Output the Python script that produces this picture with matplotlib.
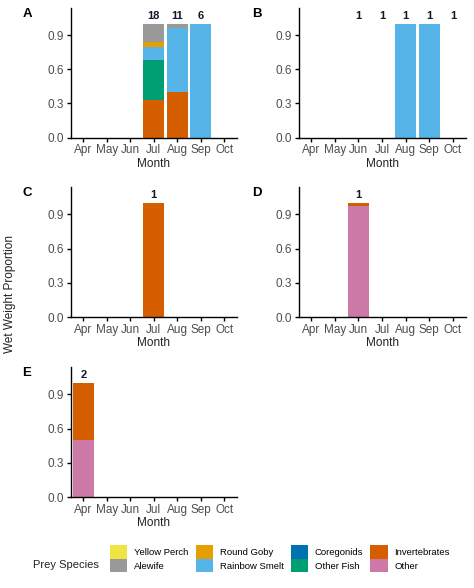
import matplotlib
matplotlib.use('Agg')
import matplotlib.pyplot as plt
from matplotlib.patches import Patch
import numpy as np

plt.rcParams['font.family'] = ['Liberation Sans', 'DejaVu Sans']

months = ['Apr', 'May', 'Jun', 'Jul', 'Aug', 'Sep', 'Oct']

# legend / stacking order (first level sits on top of the stack)
species = ['Yellow Perch', 'Alewife', 'Round Goby', 'Rainbow Smelt',
           'Coregonids', 'Other Fish', 'Invertebrates', 'Other']
colors = ['#F0E442', '#999999', '#E69F00', '#56B4E9',
          '#0072B2', '#009E73', '#D55E00', '#CC79A7']

# wet weight proportions per month, one dict per panel
panel_a = {
    'Alewife':       [0, 0, 0, 0.16, 0.035, 0, 0],
    'Round Goby':    [0, 0, 0, 0.04, 0, 0, 0],
    'Rainbow Smelt': [0, 0, 0, 0.115, 0.565, 1.0, 0],
    'Other Fish':    [0, 0, 0, 0.355, 0, 0, 0],
    'Invertebrates': [0, 0, 0, 0.33, 0.40, 0, 0],
}
panel_b = {
    'Rainbow Smelt': [0, 0, 0, 0, 1.0, 1.0, 0],
}
panel_c = {
    'Invertebrates': [0, 0, 0, 1.0, 0, 0, 0],
}
panel_d = {
    'Invertebrates': [0, 0, 0.03, 0, 0, 0, 0],
    'Other':         [0, 0, 0.97, 0, 0, 0, 0],
}
panel_e = {
    'Invertebrates': [0.5, 0, 0, 0, 0, 0, 0],
    'Other':         [0.5, 0, 0, 0, 0, 0, 0],
}

# number of stomachs per month
counts_a = [None, None, None, 18, 11, 6, None]
counts_b = [None, None, 1, 1, 1, 1, 1]
counts_c = [None, None, None, 1, None, None, None]
counts_d = [None, None, 1, None, None, None, None]
counts_e = [2, None, None, None, None, None, None]

W, H = 474, 588
fig = plt.figure(figsize=(W / 100, H / 100), dpi=100)


def px_axes(left, top, right, bottom):
    return fig.add_axes([left / W, 1 - bottom / H, (right - left) / W, (bottom - top) / H])


def draw_panel(ax, data, counts):
    x = np.arange(len(months))
    base = np.zeros(len(months))
    # stack from the bottom level upwards
    for sp, col in reversed(list(zip(species, colors))):
        if sp not in data:
            continue
        vals = np.array(data[sp], dtype=float)
        ax.bar(x, vals, bottom=base, width=0.9, color=col, linewidth=0)
        base += vals
    for i, n in enumerate(counts):
        if n is not None:
            ax.annotate(str(n), (i, 1.0), xytext=(0, 2), textcoords='offset points',
                        ha='center', va='bottom', fontsize=8, fontweight='bold',
                        color='#14142b')
    ax.set_xlim(-0.53, 6.55)
    ax.set_ylim(0, 1.14)
    ax.set_xticks(x)
    ax.set_xticklabels(months)
    ax.set_yticks([0, 0.3, 0.6, 0.9])
    ax.set_yticklabels(['0.0', '0.3', '0.6', '0.9'])
    ax.set_xlabel('Month', fontsize=8.5, color='#222222', labelpad=1)
    for s in ['top', 'right']:
        ax.spines[s].set_visible(False)
    for s in ['left', 'bottom']:
        ax.spines[s].set_linewidth(1.0)
    ax.tick_params(length=3, width=1.0, labelsize=8.5, labelcolor='#4d4d4d', pad=2)


boxes = [
    ('A', panel_a, counts_a, (71, 8, 237, 137.5), (27, 14)),
    ('B', panel_b, counts_b, (298.5, 8, 466, 137.5), (257, 14)),
    ('C', panel_c, counts_c, (71, 187, 237, 317), (27, 193)),
    ('D', panel_d, counts_d, (298.5, 187, 466, 317), (257, 193)),
    ('E', panel_e, counts_e, (71, 367, 237, 497), (27, 373)),
]
for tag, data, counts, box, lab in boxes:
    ax = px_axes(*box)
    draw_panel(ax, data, counts)
    fig.text(lab[0] / W, 1 - lab[1] / H, tag, fontsize=9.5, fontweight='bold',
             ha='center', va='center')

fig.text(10 / W, 0.5, 'Wet Weight Proportion', rotation=90, ha='center', va='center',
         fontsize=8.5, color='#222222')

# legend
handles = [Patch(facecolor=c, edgecolor='none', label=s) for s, c in zip(species, colors)]
fig.legend(handles=handles, ncol=4, loc='upper left',
           bbox_to_anchor=(110 / W, 1 - 545 / H), frameon=False, borderpad=0,
           fontsize=6.8, handlelength=1.85, handleheight=1.85, labelspacing=0.0,
           handletextpad=0.7, columnspacing=0.75, borderaxespad=0)
fig.text(33 / W, 1 - 565 / H, 'Prey Species', fontsize=8, ha='left', va='center',
         color='#222222')

fig.savefig('out.png', dpi=100)
